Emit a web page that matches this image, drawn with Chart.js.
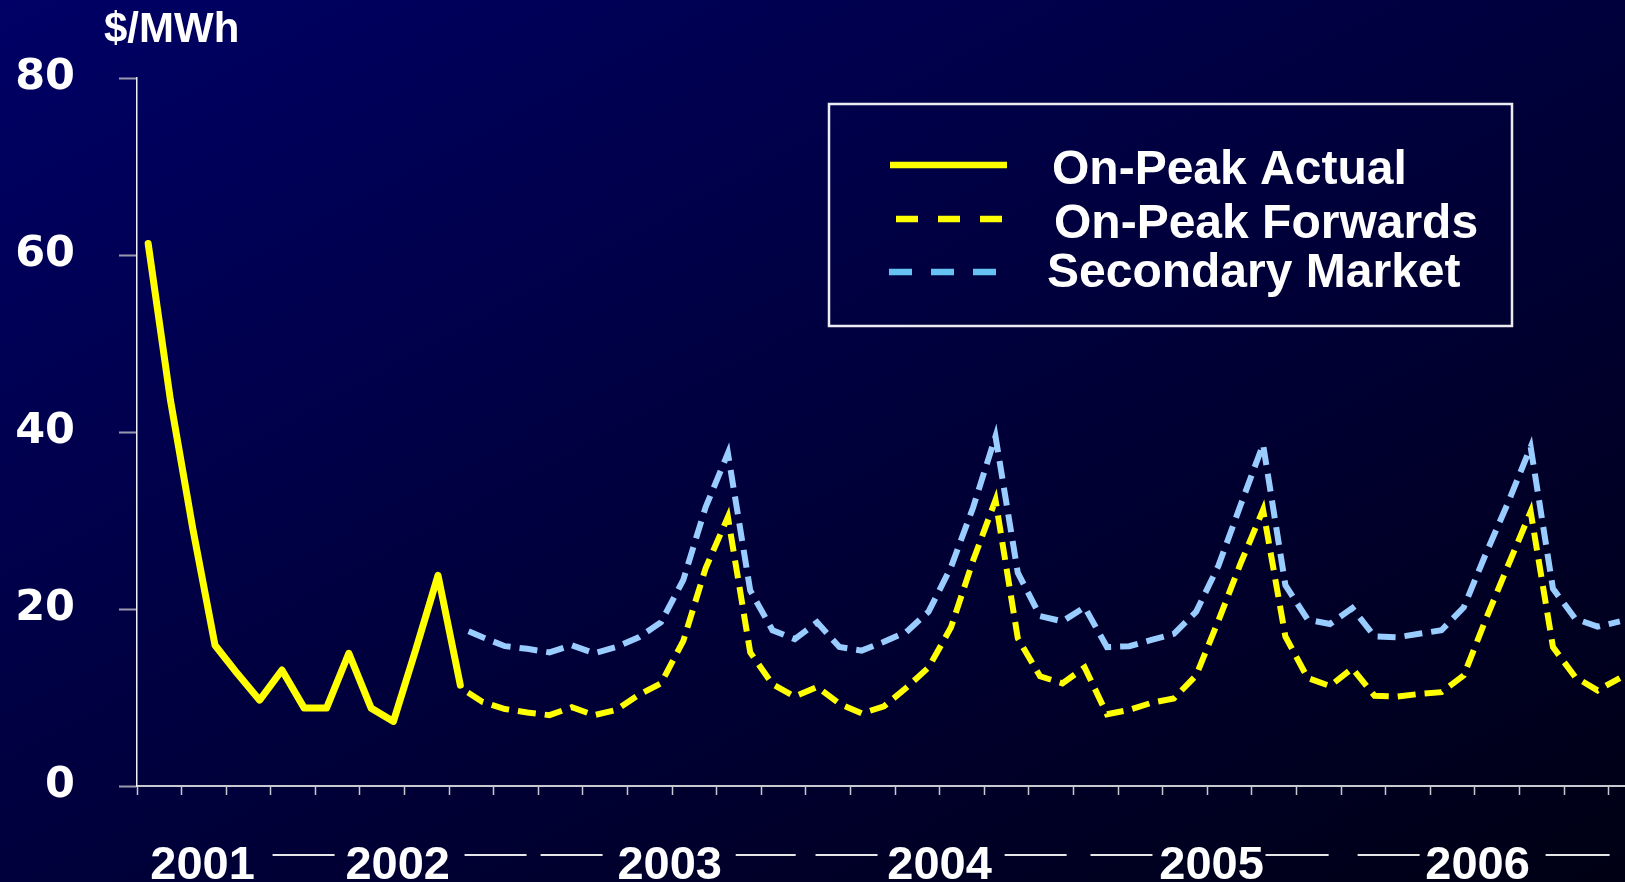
<!DOCTYPE html>
<html>
<head>
<meta charset="utf-8">
<title>On-Peak Prices</title>
<script src="https://cdn.jsdelivr.net/npm/chart.js@4.4.1/dist/chart.umd.min.js"></script>
<style>
  html, body { margin: 0; padding: 0; overflow: hidden; background: #000030; }
  #frame {
    position: relative; width: 1625px; height: 882px; overflow: hidden;
    background: linear-gradient(to bottom right, #000066 0%, #00003c 50%, #000014 100%);
  }
  #chart { position: absolute; left: 0; top: 0; }
</style>
</head>
<body>
<div id="frame"><canvas id="chart" width="1632" height="882"></canvas></div>
<script>
// Monthly categories, May 2001 through Nov 2006
const months = [
  'May-01','Jun-01','Jul-01','Aug-01','Sep-01','Oct-01','Nov-01','Dec-01',
  'Jan-02','Feb-02','Mar-02','Apr-02','May-02','Jun-02','Jul-02','Aug-02','Sep-02','Oct-02','Nov-02','Dec-02',
  'Jan-03','Feb-03','Mar-03','Apr-03','May-03','Jun-03','Jul-03','Aug-03','Sep-03','Oct-03','Nov-03','Dec-03',
  'Jan-04','Feb-04','Mar-04','Apr-04','May-04','Jun-04','Jul-04','Aug-04','Sep-04','Oct-04','Nov-04','Dec-04',
  'Jan-05','Feb-05','Mar-05','Apr-05','May-05','Jun-05','Jul-05','Aug-05','Sep-05','Oct-05','Nov-05','Dec-05',
  'Jan-06','Feb-06','Mar-06','Apr-06','May-06','Jun-06','Jul-06','Aug-06','Sep-06','Oct-06','Nov-06'
];

// On-peak actual monthly prices ($/MWh), May-01 .. Jul-02
const onPeakActual = [61.3, 43.6, 29.1, 15.9, 12.7, 9.7, 13.1, 8.8, 8.8, 15.0, 8.8, 7.3, 15.4, 23.8, 11.4];

// Forward curves start at this month
const forwardStart = 'Jul-02';

// On-peak forwards ($/MWh), Jul-02 .. Nov-06
const onPeakForwards = [
  11.1, 9.5, 8.7, 8.3, 8.0, 8.9, 8.0, 8.6, 10.3, 11.6, 16.4, 24.6, 30.4,
  15.1, 11.5, 10.1, 11.2, 9.3, 8.2, 9.0, 11.1, 13.4, 17.9, 25.5, 32.3,
  16.7, 12.4, 11.6, 13.4, 8.1, 8.6, 9.4, 9.9, 12.5, 18.7, 25.2, 31.2,
  16.9, 12.2, 11.3, 13.3, 10.2, 10.1, 10.4, 10.6, 12.5, 18.9, 25.0, 31.0,
  15.7, 12.3, 10.8, 12.2
];

// Secondary market prices ($/MWh), Jul-02 .. Nov-06
const secondaryMarket = [
  17.9, 16.8, 15.8, 15.5, 15.1, 15.9, 15.0, 15.7, 16.8, 18.5, 23.3, 31.5, 37.6,
  22.1, 17.6, 16.6, 18.5, 15.7, 15.3, 16.3, 17.4, 19.7, 24.7, 31.5, 39.5,
  24.1, 19.2, 18.6, 20.2, 15.7, 15.8, 16.5, 17.2, 19.7, 24.9, 31.8, 38.6,
  22.7, 18.8, 18.3, 20.1, 16.9, 16.8, 17.2, 17.6, 20.2, 26.3, 32.1, 38.3,
  22.3, 18.9, 18.0, 18.6
];

const seriesNames = ['On-Peak Actual', 'On-Peak Forwards', 'Secondary Market'];
const yTickValues = [0, 20, 40, 60, 80];
const unitText = '$/MWh';
const yearLabels = ['2001', '2002', '2003', '2004', '2005', '2006'];

// Year row along the bottom: label centres and rule spans, in month-index units of the x scale
const yearCentres = [2.44, 11.19, 23.39, 35.49, 47.69, 59.62];
const yearRules = [
  [5.58, 8.36], [14.19, 16.97], [17.60, 20.38], [26.35, 29.04], [29.93, 32.71],
  [38.41, 41.19], [42.26, 45.04], [50.11, 52.94], [54.24, 57.02], [62.67, 65.54]
];

const YELLOW = '#ffff00';
const SKY = '#99ccff';
const lead = months.indexOf(forwardStart);
const padLead = (arr) => new Array(lead).fill(null).concat(arr);

// "$/MWh" caption above the value axis
const unitCaption = {
  id: 'unitCaption',
  afterDraw(chart) {
    const ctx = chart.ctx;
    ctx.save();
    ctx.font = 'bold 42px "Liberation Sans", Arial, sans-serif';
    ctx.fillStyle = '#ffffff';
    ctx.textAlign = 'left';
    ctx.textBaseline = 'alphabetic';
    ctx.fillText(unitText, 104, 42);
    ctx.restore();
  }
};

// Year labels with flanking rules under the time axis
const yearRow = {
  id: 'yearRow',
  afterDraw(chart) {
    const x = chart.scales.x, ctx = chart.ctx;
    ctx.save();
    ctx.font = 'bold 47px "Liberation Sans", Arial, sans-serif';
    ctx.fillStyle = '#ffffff';
    ctx.textAlign = 'center';
    ctx.textBaseline = 'alphabetic';
    yearLabels.forEach((t, i) => ctx.fillText(t, x.getPixelForValue(yearCentres[i]), 879));
    ctx.strokeStyle = '#e6e6e6';
    ctx.lineWidth = 2;
    yearRules.forEach(([a, b]) => {
      ctx.beginPath();
      ctx.moveTo(x.getPixelForValue(a), 855);
      ctx.lineTo(x.getPixelForValue(b), 855);
      ctx.stroke();
    });
    ctx.restore();
  }
};

// Boxed legend in the upper right
const legendBox = {
  id: 'legendBox',
  afterDraw(chart) {
    const ctx = chart.ctx;
    const rows = [
      { y: 165, x0: 890, x1: 1007, dash: [], color: YELLOW, tx: 1052, ty: 184 },
      { y: 219, x0: 896, x1: 1002, dash: [22, 20], color: YELLOW, tx: 1054, ty: 238 },
      { y: 272, x0: 889, x1: 996, dash: [23, 19], color: '#66c2f2', tx: 1047, ty: 287 }
    ];
    ctx.save();
    ctx.strokeStyle = '#ececf2';
    ctx.lineWidth = 2.5;
    ctx.strokeRect(829, 104, 683, 222);
    ctx.font = 'bold 48px "Liberation Sans", Arial, sans-serif';
    ctx.fillStyle = '#ffffff';
    ctx.textAlign = 'left';
    ctx.textBaseline = 'alphabetic';
    chart.data.datasets.forEach((ds, i) => {
      const r = rows[i];
      ctx.beginPath();
      ctx.setLineDash(r.dash);
      ctx.lineCap = 'butt';
      ctx.lineWidth = 6.5;
      ctx.strokeStyle = r.color;
      ctx.moveTo(r.x0, r.y);
      ctx.lineTo(r.x1, r.y);
      ctx.stroke();
      ctx.setLineDash([]);
      ctx.fillText(ds.label, r.tx, r.ty);
    });
    ctx.restore();
  }
};

new Chart(document.getElementById('chart'), {
  type: 'line',
  data: {
    labels: months,
    datasets: [
      {
        label: seriesNames[0],
        data: onPeakActual,
        borderColor: YELLOW,
        borderWidth: 7,
        borderCapStyle: 'round',
        borderJoinStyle: 'round',
        pointRadius: 0,
        tension: 0
      },
      {
        label: seriesNames[1],
        data: padLead(onPeakForwards),
        borderColor: YELLOW,
        borderWidth: 6,
        borderDash: [18, 9],
        borderDashOffset: 18,
        borderCapStyle: 'butt',
        borderJoinStyle: 'miter',
        pointRadius: 0,
        tension: 0
      },
      {
        label: seriesNames[2],
        data: padLead(secondaryMarket),
        borderColor: SKY,
        borderWidth: 6,
        borderDash: [18, 9],
        borderDashOffset: 18,
        borderCapStyle: 'butt',
        borderJoinStyle: 'miter',
        pointRadius: 0,
        tension: 0
      }
    ]
  },
  options: {
    responsive: false,
    animation: false,
    events: [],
    layout: { padding: { top: 78, bottom: 87, left: 0, right: 1 } },
    scales: {
      x: {
        type: 'category',
        offset: true,
        grid: {
          display: true,
          offset: true,
          drawOnChartArea: false,
          drawTicks: true,
          tickLength: 9,
          tickWidth: 1.5,
          tickColor: (c) => (c.index % 2 === 0 ? '#c8c8d0' : 'rgba(0,0,0,0)')
        },
        border: { display: true, color: '#c8c8d0', width: 2 },
        ticks: { display: false }
      },
      y: {
        min: 0,
        max: 80,
        afterFit: (scale) => { scale.width = 137; },
        afterBuildTicks: (scale) => { scale.ticks = yTickValues.map(v => ({ value: v })); },
        grid: {
          display: true,
          drawOnChartArea: false,
          drawTicks: true,
          tickLength: 18,
          tickWidth: 2,
          tickColor: '#9a9aae'
        },
        border: { display: true, color: '#f0f0f4', width: 1.5 },
        ticks: {
          color: '#ffffff',
          padding: 44,
          font: { family: '"DejaVu Sans", Verdana, sans-serif', weight: 'bold', size: 43 }
        }
      }
    },
    plugins: {
      legend: { display: false },
      tooltip: { enabled: false },
      title: { display: false }
    }
  },
  plugins: [unitCaption, yearRow, legendBox]
});
</script>
</body>
</html>
